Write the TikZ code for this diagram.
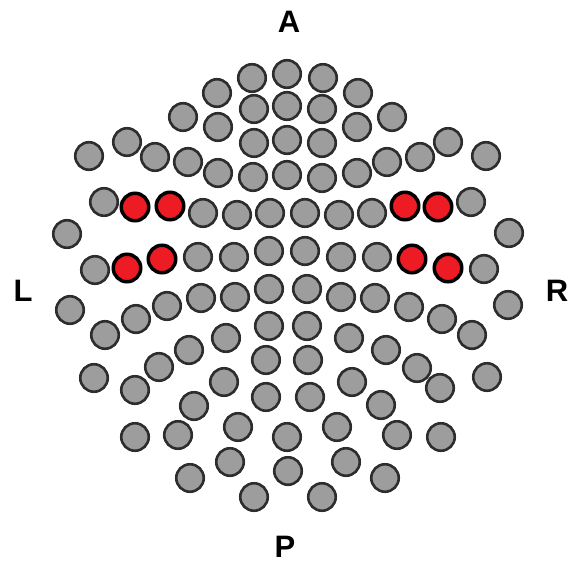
\documentclass[tikz,border=0pt]{standalone}
\usepackage{fontspec}
\setmainfont{Liberation Sans}
\definecolor{elecgray}{RGB}{157,157,157}
\definecolor{elecedge}{RGB}{45,45,45}
\definecolor{elecred}{RGB}{237,28,36}
\begin{document}
\begin{tikzpicture}[x=1pt,y=-1pt,
  elec/.style={circle,draw=elecedge,fill=elecgray,line width=2.6pt,minimum size=27.5pt,inner sep=0pt},
  eleca/.style={circle,draw=black,fill=elecred,line width=3.5pt,minimum size=27.5pt,inner sep=0pt},
  dirlab/.style={font=\fontsize{31}{31}\selectfont\bfseries,inner sep=0pt}]
\useasboundingbox (0,0) rectangle (570,565);
\foreach \x/\y [count=\i] in {
  287/74, 252/78, 323/78,
  217/93, 358/93,
  254/109, 287/106, 322/109,
  183/117, 392/117,
  218/127, 357/127,
  254/143, 287/140, 322/143,
  127/142, 448/142,
  89/156, 486/156,
  155/157, 420/157,
  188/162, 387/162,
  218/173, 357/173,
  253/177, 287/175, 322/178,
  104/202, 471/202,
  203/213, 237/215, 270/213, 305/213, 339/215, 372/213,
  67/234, 509/233,
  95/270, 198/257, 234/257, 269/251, 305/251, 341/257, 377/257, 484/269,
  70/310, 508/305,
  105/335, 136/319, 167/306, 201/298, 235/297, 269/289, 307/289, 341/297, 375/298, 409/307, 442/319, 472/335,
  94/378, 135/390, 159/367, 189/350, 226/338, 269/326, 307/326, 349/338, 386/350, 417/368, 440/388, 487/377,
  266/360, 308/360,
  194/406, 224/382, 266/397, 310/397, 352/382, 381/405,
  135/437, 178/435, 238/427, 287/437, 337/427, 397/435, 441/437,
  190/478, 230/462, 288/471, 346/462, 385/478,
  254/497, 322/497}
  \node[elec] (g\i) at (\x,\y) {};
\foreach \x/\y [count=\i] in {
  135/207, 170/206, 405/206, 438/207,
  127/268, 162/259, 412/259, 448/268}
  \node[eleca] (r\i) at (\x,\y) {};
\node[dirlab] (labA) at (289,22) {A};
\node[dirlab] (labL) at (23,291) {L};
\node[dirlab] (labR) at (557,291) {R};
\node[dirlab] (labP) at (285,547) {P};
\end{tikzpicture}
\end{document}
